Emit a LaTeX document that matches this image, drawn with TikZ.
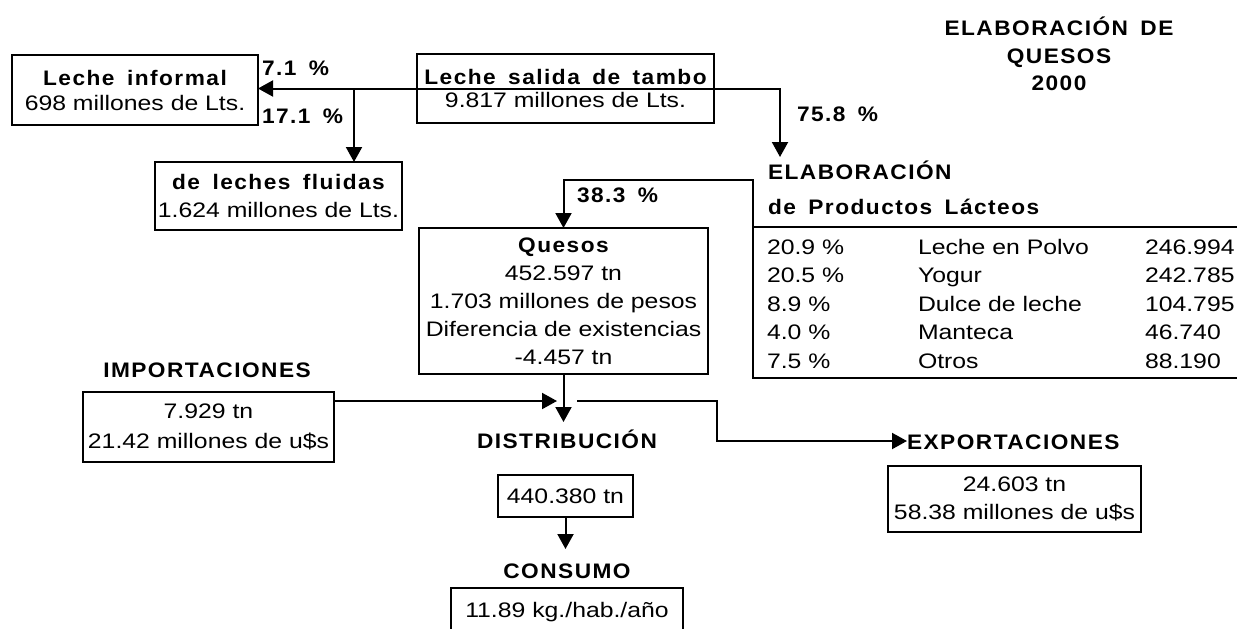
\documentclass[tikz,border=0pt]{standalone}
\usepackage{fontspec}
\setmainfont{Liberation Sans}[FakeStretch=1.18]
\newfontfamily\bfam{Liberation Sans}[FakeStretch=1.08,LetterSpace=7,WordSpace=1.6]
\usetikzlibrary{arrows.meta}
\begin{document}
\begin{tikzpicture}[x=1pt,y=-1pt,
  every node/.style={inner sep=0pt, outer sep=0pt},
  reg/.style={font=\fontsize{21}{25}\selectfont},
  hd/.style={font=\bfam\bfseries\fontsize{21}{25}\selectfont},
  box/.style={draw, line width=2pt, align=center},
  ln/.style={line width=2pt},
  arr/.style={ln, -{Triangle[length=15pt,width=16pt]}}]
\useasboundingbox (0,0) rectangle (1237,629);
\clip (0,0) rectangle (1237,629);

% title
\node[hd, anchor=base] (t1) at (1059,35) {ELABORACIÓN DE};
\node[hd, anchor=base] (t2) at (1059,63) {QUESOS};
\node[hd, anchor=base] (t3) at (1059,90) {2000};

% boxes
\node[box, font=\fontsize{21}{25}\selectfont, minimum width=246pt, minimum height=70pt] (informal) at (135,90)
  {{\bfam\bfseries Leche informal}\\698 millones de Lts.};
\node[box, font=\fontsize{21}{23}\selectfont, minimum width=297pt, minimum height=69pt] (salida) at (565.5,88.5)
  {{\bfam\bfseries Leche salida de tambo}\\9.817 millones de Lts.};
\node[box, font=\fontsize{21}{28}\selectfont, minimum width=247pt, minimum height=68pt] (fluidas) at (278.5,196)
  {{\bfam\bfseries de leches fluidas}\\1.624 millones de Lts.};
\node[box, font=\fontsize{21}{28}\selectfont, minimum width=289pt, minimum height=146pt] (quesos) at (563.5,301)
  {{\bfam\bfseries Quesos}\\452.597 tn\\1.703 millones de pesos\\Diferencia de existencias\\-4.457 tn};
\node[box, font=\fontsize{21}{30}\selectfont, minimum width=251pt, minimum height=70pt] (imports) at (208.5,427)
  {7.929 tn\\21.42 millones de u\$s};
\node[box, font=\fontsize{21}{28}\selectfont, minimum width=253pt, minimum height=66pt] (exports) at (1014.5,499)
  {24.603 tn\\58.38 millones de u\$s};
\node[box, reg, minimum width=135pt, minimum height=42pt, text height=15pt, text depth=0pt] (distbox) at (565.5,496)
  {440.380 tn};
\node[box, reg, minimum width=232pt, minimum height=60pt, text height=15pt, text depth=17pt] (consumo) at (567,618)
  {11.89 kg./hab./año};

% labels
\node[hd, anchor=base west] (p71) at (262,75) {7.1 \%};
\node[hd, anchor=base west] (p171) at (262,123) {17.1 \%};
\node[hd, anchor=base west] (p758) at (797,121) {75.8 \%};
\node[hd, anchor=base west] (p383) at (577,202) {38.3 \%};
\node[hd, anchor=base west] (elab) at (768,179) {ELABORACIÓN};
\node[hd, anchor=base west] (elab2) at (768,214) {de Productos Lácteos};
\node[hd, anchor=base] (implab) at (207,377) {IMPORTACIONES};
\node[hd, anchor=base] (distlab) at (567,448) {DISTRIBUCIÓN};
\node[hd, anchor=base west] (explab) at (907,449) {EXPORTACIONES};
\node[hd, anchor=base] (conlab) at (567,578) {CONSUMO};

% table
\draw[ln] (1240,227) -- (753,227) -- (753,378) -- (1240,378);
\foreach \p/\n/\v [count=\i] in {20.9/Leche en Polvo/246.994, 20.5/Yogur/242.785,
   8.9/Dulce de leche/104.795, 4.0/Manteca/46.740, 7.5/Otros/88.190}{
  \pgfmathsetmacro{\yy}{254+(\i-1)*28.5}
  \node[reg, anchor=base west] (pc\i) at (767,\yy) {\p\ \%};
  \node[reg, anchor=base west] (nm\i) at (918,\yy) {\n};
  \node[reg, anchor=base west] (vl\i) at (1145,\yy) {\v};
}

% connectors
\coordinate (jl) at (354,88.5);
\coordinate (elabtop) at (780,157);
\coordinate (tbl) at (753,227);
\coordinate (tblup) at (753,180);
\coordinate (distin) at (563.5,422);
\coordinate (impin) at (557,401);
\coordinate (expout) at (577,401);
\coordinate (expbend) at (717,441);
\coordinate (consin) at (565.5,549);

\draw[arr] (salida.west) -- (informal.east |- salida.west);
\draw[ln] (salida.west) -- (salida.east);
\draw[arr] (salida.east) -| (elabtop);
\draw[arr] (jl) -- (jl |- fluidas.north);
\draw[arr] (tbl) -- (tblup) -| (quesos.north);
\draw[arr] (quesos.south) -- (distin);
\draw[arr] (imports.east |- impin) -- (impin);
\draw[arr] (expout) -| (expbend) -- (explab.west |- expbend);
\draw[arr] (distbox.south) -- (consin);
\end{tikzpicture}
\end{document}
